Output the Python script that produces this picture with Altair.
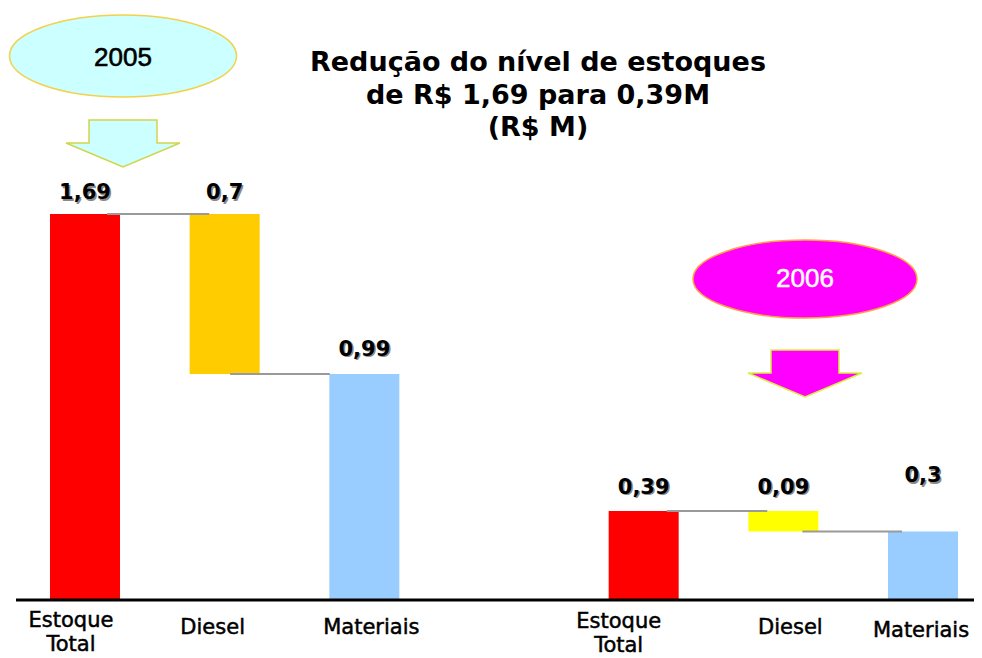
import altair as alt
import pandas as pd

# ---------------- data ----------------
categories = ["Estoque Total", "Diesel", "Materiais", "Estoque Total", "Diesel", "Materiais"]
years = ["2005", "2005", "2005", "2006", "2006", "2006"]
bar_start = [0.0, 0.99, 0.0, 0.0, 0.30, 0.0]
bar_end = [1.69, 1.69, 0.99, 0.39, 0.39, 0.30]
value_labels = ["1,69", "0,7", "0,99", "0,39", "0,09", "0,3"]
title_lines = ["Redução do nível de estoques", "de R$ 1,69 para 0,39M", "(R$ M)"]
connector_values = [1.69, 0.99, 0.39, 0.30]

# ---------------- layout / style ----------------
slots = [0, 1, 2, 4, 5, 6]
bar_colors = ["#FF0000", "#FFCC00", "#99CCFF", "#FF0000", "#FFFF00", "#99CCFF"]
W, H = 966, 650
X0, STEP = 77.0, 139.67      # plot-px of slot 0, px per slot
Y0, PPU = 592.0, 228.4       # plot-px of value 0, px per unit
BAR_HALF = 35.0 / STEP
label_gap_px = [21, 21, 24, 23, 23, 55]
cat_dx_px = [-14, -12, 7, -25, 7, -2]
cat_base_px = [27, 34, 34, 28, 34, 37]
conn_from = [0, 1, 4, 5]
conn_start_off = [0.158, 0.039, 0.165, 0.136]
conn_end_off = [0.889, 0.753, 0.885, 0.850]

xs = alt.Scale(domain=[-X0 / STEP, (W - X0) / STEP], nice=False, zero=False)
ys = alt.Scale(domain=[-(H - Y0) / PPU, Y0 / PPU], nice=False, zero=False)

keys = [f"{c} {y}" for c, y in zip(categories, years)]

bars_df = pd.DataFrame({"slot": slots, "key": keys, "start": bar_start, "end": bar_end})
bars = alt.Chart(bars_df).mark_bar().transform_calculate(
    xa=f"datum.slot - {BAR_HALF}", xb=f"datum.slot + {BAR_HALF}"
).encode(
    x=alt.X("xa:Q", scale=xs, axis=None),
    x2="xb:Q",
    y=alt.Y("start:Q", scale=ys, axis=None),
    y2="end:Q",
    color=alt.Color("key:N", scale=alt.Scale(domain=keys, range=bar_colors), legend=None),
)

conn_df = pd.DataFrame({
    "v": connector_values,
    "xa": [f + o for f, o in zip(conn_from, conn_start_off)],
    "xb": [f + o for f, o in zip(conn_from, conn_end_off)],
})
connectors = alt.Chart(conn_df).mark_rule(color="#9A9A9A", strokeWidth=2).encode(
    x=alt.X("xa:Q", scale=xs, axis=None),
    x2="xb:Q",
    y=alt.Y("v:Q", scale=ys, axis=None),
)

base_df = pd.DataFrame({"v": [0.0]})
baseline = alt.Chart(base_df).mark_rule(color="#000000", strokeWidth=3).encode(
    x=alt.value(8), x2=alt.value(W),
    y=alt.Y("v:Q", scale=ys, axis=None),
)

lab_df = pd.DataFrame({
    "slot": slots,
    "text": value_labels,
    "ly": [e + g / PPU for e, g in zip(bar_end, label_gap_px)],
})
val_shadow = alt.Chart(lab_df).mark_text(
    font="DejaVu Sans", fontWeight="bold", fontSize=21, color="#8A8A8A",
    baseline="middle", align="center", dx=1.5, dy=1.5
).encode(
    x=alt.X("slot:Q", scale=xs, axis=None),
    y=alt.Y("ly:Q", scale=ys, axis=None),
    text="text:N",
)
val_labels = alt.Chart(lab_df).mark_text(
    font="DejaVu Sans", fontWeight="bold", fontSize=21, color="#000000",
    baseline="middle", align="center"
).encode(
    x=alt.X("slot:Q", scale=xs, axis=None),
    y=alt.Y("ly:Q", scale=ys, axis=None),
    text="text:N",
)

cat_df = pd.DataFrame({
    "cx": [s + d / STEP for s, d in zip(slots, cat_dx_px)],
    "cy": [-b / PPU for b in cat_base_px],
    "text": [c.replace(" ", "\n") for c in categories],
})
cat_labels = alt.Chart(cat_df).mark_text(
    font="DejaVu Sans", fontSize=21, color="#000000", stroke="#000000", strokeWidth=0.5,
    baseline="alphabetic", align="center", lineBreak="\n", lineHeight=24
).encode(
    x=alt.X("cx:Q", scale=xs, axis=None),
    y=alt.Y("cy:Q", scale=ys, axis=None),
    text="text:N",
)

title = alt.Chart(base_df).mark_text(
    text=title_lines, font="DejaVu Sans", fontWeight="bold", fontSize=27,
    color="#000000", align="center", baseline="alphabetic", lineHeight=32.5
).encode(x=alt.value(530), y=alt.value(63))

ELL_05 = ("M -113.5 0 C -113.5 -22.64 -62.69 -41 0 -41 C 62.69 -41 113.5 -22.64 113.5 0 "
          "C 113.5 22.64 62.69 41 0 41 C -62.69 41 -113.5 22.64 -113.5 0 Z")
ELL_06 = ("M -112 0 C -112 -21.54 -61.86 -39 0 -39 C 61.86 -39 112 -21.54 112 0 "
          "C 112 21.54 61.86 39 0 39 C -61.86 39 -112 21.54 -112 0 Z")
ARROW = "M -34 -23 L 34 -23 L 34 0 L 57 0 L 0 24 L -57 0 L -34 0 Z"

ell05 = alt.Chart(base_df).mark_point(
    shape=ELL_05, size=4, filled=True, fill="#CCFFFF", stroke="#F2D24A",
    strokeWidth=1.5, opacity=1
).encode(x=alt.value(115), y=alt.value(48))
arr05 = alt.Chart(base_df).mark_point(
    shape=ARROW, size=4, filled=True, fill="#CCFFFF", stroke="#D4D44A",
    strokeWidth=1.5, opacity=1
).encode(x=alt.value(115), y=alt.value(135))
txt05 = alt.Chart(base_df).mark_text(
    text="2005", font="Liberation Sans", fontSize=26, color="#000000",
    stroke="#000000", strokeWidth=0.6, align="center", baseline="middle"
).encode(x=alt.value(115), y=alt.value(49.5))

ell06 = alt.Chart(base_df).mark_point(
    shape=ELL_06, size=4, filled=True, fill="#FF00FF", stroke="#FFA040",
    strokeWidth=1.5, opacity=1
).encode(x=alt.value(797), y=alt.value(271))
arr06 = alt.Chart(base_df).mark_point(
    shape=ARROW, size=4, filled=True, fill="#FF00FF", stroke="#D8F040",
    strokeWidth=1.5, opacity=1
).encode(x=alt.value(797), y=alt.value(365))
txt06 = alt.Chart(base_df).mark_text(
    text="2006", font="Liberation Sans", fontSize=26, color="#FFFFFF",
    stroke="#FFFFFF", strokeWidth=0.5, align="center", baseline="middle"
).encode(x=alt.value(797), y=alt.value(271))

chart = alt.layer(
    bars, connectors, baseline, val_shadow, val_labels, cat_labels, title,
    ell05, arr05, txt05, ell06, arr06, txt06
).properties(
    width=W, height=H, padding=0,
    autosize=alt.AutoSizeParams(type="none"),
    background="#FFFFFF",
).configure_view(stroke=None)

chart.save("out.html", embed_options={"renderer": "svg", "actions": False})
